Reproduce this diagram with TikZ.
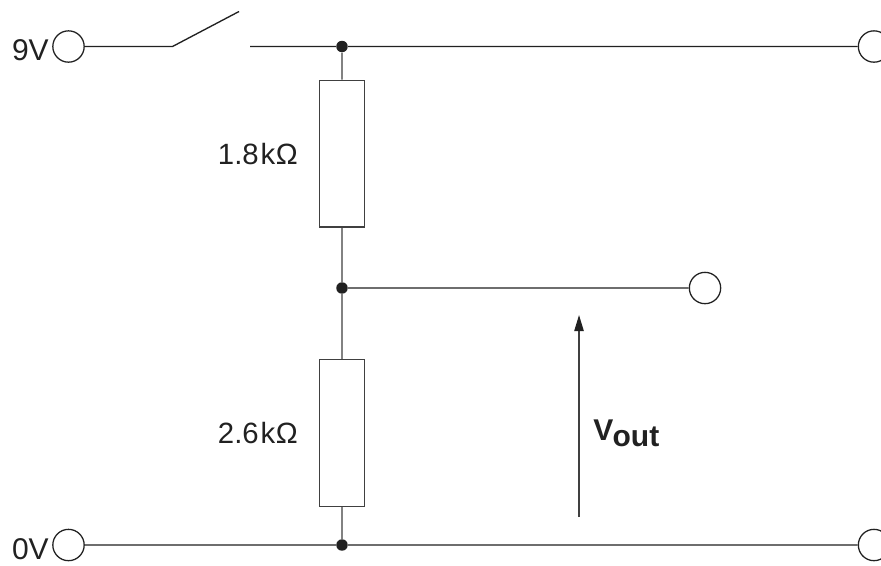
\documentclass[tikz,border=0pt]{standalone}
\usepackage{fontspec}
\setmainfont{Liberation Sans}
\usetikzlibrary{arrows.meta}
\definecolor{ink}{gray}{0.13}
\definecolor{soft}{gray}{0.25}
\tikzset{
 wire/.style={line width=1pt,draw=ink},
 softwire/.style={line width=1pt,draw=soft},
 term/.style={circle,draw=ink,line width=0.95pt,fill=white,minimum size=23.5pt,inner sep=0pt},
 res/.style={rectangle,draw=soft,line width=1pt,fill=white,minimum width=34pt,minimum height=110pt,inner sep=0pt},
 junc/.style={circle,fill=ink,minimum size=8.6pt,inner sep=0pt},
 lab/.style={font=\fontsize{22.5}{25}\selectfont,text=ink,inner sep=0pt},
 rlab/.style={font=\fontsize{22}{25}\selectfont,text=ink,inner sep=0pt}
}
\begin{document}
\begin{tikzpicture}[x=1pt,y=-1pt,xscale=0.75,yscale=0.75]
\useasboundingbox (0,0) rectangle (881,565);
\fill[white] (0,0) rectangle (881,565);
\node[term] (t9) at (68.5,46.5) {};
\node[term] (tr) at (874,46.5) {};
\node[term] (tm) at (705,288) {};
\node[term] (t0) at (68.5,545) {};
\node[term] (tb) at (874,545) {};
\coordinate (sa) at (172.5,46.5);
\coordinate (sb) at (239,11.5);
\coordinate (sc) at (250,46.5);
\coordinate (au) at (579,315);
\coordinate (ad) at (579,517);
\node[res] (r1) at (342,153.5) {};
\node[res] (r2) at (342,433) {};
\node[junc] (j1) at (342,46.5) {};
\node[junc] (j2) at (342,288) {};
\node[junc] (j3) at (342,545) {};
\draw[wire] (t9.east |- sa) -- (sa) -- (sb);
\draw[wire] (sc) -- (j1) -- (tr);
\draw[softwire] (j1) -- (r1);
\draw[softwire] (r1) -- (j2) -- (r2);
\draw[softwire] (r2) -- (j3);
\draw[wire] (j2) -- (tm);
\draw[wire] (t0) -- (j3) -- (tb);
\draw[softwire,-{Stealth[length=12pt,width=7pt,inset=0pt,color=ink,fill=ink]}] (ad) -- (au);
\node[lab,anchor=base east] (l9) at (49,60) {9V};
\node[lab,anchor=base east] (l0) at (49,559) {0V};
\node[rlab,anchor=base east] (l1) at (298,164) {1.8\kern1.5pt k\kern0.3pt Ω};
\node[rlab,anchor=base east] (l2) at (298,443.5) {2.6\kern1.5pt k\kern0.3pt Ω};
\node[lab,anchor=base west] (lv) at (593,440) {\bfseries V\kern-0.5pt\raisebox{-4.5pt}{out}};
\end{tikzpicture}
\end{document}
